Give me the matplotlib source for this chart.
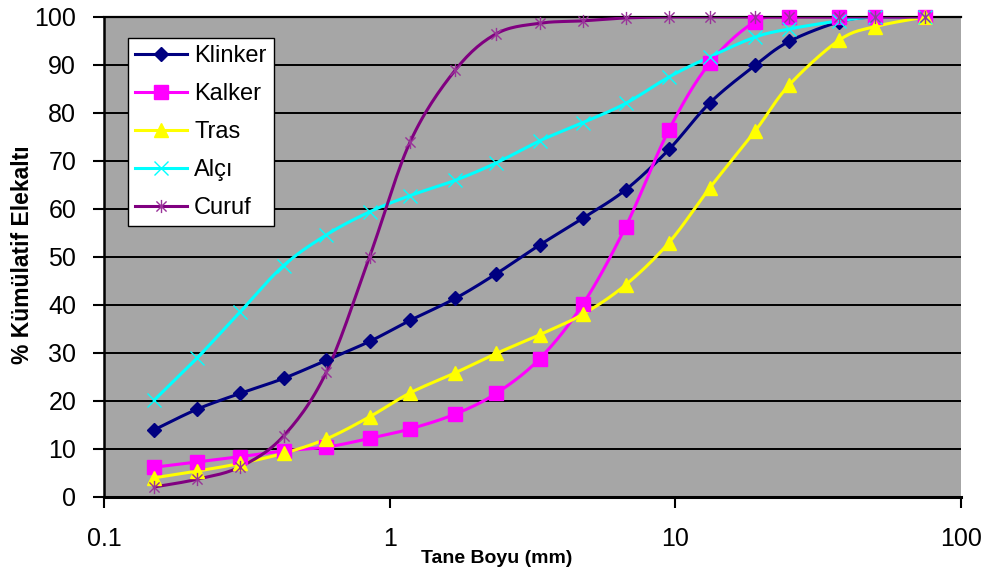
import numpy as np
import matplotlib
matplotlib.use("Agg")
import matplotlib.pyplot as plt
from matplotlib.path import Path

plt.rcParams["font.family"] = ["Liberation Sans", "DejaVu Sans"]

# sieve sizes (mm) and cumulative passing (%)
sizes = [0.15, 0.212, 0.3, 0.425, 0.6, 0.85, 1.18, 1.7, 2.36, 3.35,
         4.75, 6.7, 9.5, 13.2, 19, 25, 37.5, 50, 75]
klinker = [14, 18.3, 21.6, 24.7, 28.5, 32.4, 36.8, 41.4, 46.5, 52.5,
           58.1, 64, 72.4, 82.1, 89.9, 94.9, 99, 100, 100]
kalker = [6.2, 7.3, 8.4, 9.6, 10.4, 12.2, 14.2, 17.3, 21.6, 28.8,
          40.2, 56.3, 76.5, 90.4, 99, 100, 100, 100, 100]
tras = [4, 5.4, 7, 9.1, 12.1, 16.7, 21.7, 25.9, 29.9, 33.8,
        38.1, 44.2, 53, 64.4, 76.2, 85.8, 95.2, 98, 100]
alci = [20.2, 29, 38.6, 48.2, 54.6, 59.4, 62.8, 66, 69.6, 74.2,
        78, 82, 87.5, 91.7, 95.8, 97.5, 99.2, 100, 100]
curuf = [2.1, 3.7, 6.3, 12.7, 26, 50, 74, 89, 96.5, 98.7,
         99.2, 99.8, 100, 100, 100, 100, 100, 100, 100]

names = ["Klinker", "Kalker", "Tras", "Alçı", "Curuf"]
colors = ["#000080", "#FF00FF", "#FFFF00", "#00FFFF", "#800080"]

# excel-like asterisk marker (x + vertical bar)
star = Path([(-1, -1), (1, 1), (-1, 1), (1, -1), (0, -1.3), (0, 1.3)],
            [Path.MOVETO, Path.LINETO, Path.MOVETO, Path.LINETO, Path.MOVETO, Path.LINETO])


def smooth(xs, ys, n=16):
    # excel-style smoothed line (bezier through the points, log-x space)
    p = np.column_stack([np.log10(xs), ys])
    P = np.vstack([p[0], p, p[-1]])
    t = np.linspace(0, 1, n)[:, None]
    segs = []
    for i in range(1, len(P) - 2):
        p0, p1, p2, p3 = P[i - 1], P[i], P[i + 1], P[i + 2]
        c1 = p1 + (p2 - p0) / 6
        c2 = p2 - (p3 - p1) / 6
        s = (1 - t) ** 3 * p1 + 3 * (1 - t) ** 2 * t * c1 + 3 * (1 - t) * t ** 2 * c2 + t ** 3 * p2
        segs.append(s if i == 1 else s[1:])
    s = np.vstack(segs)
    return 10 ** s[:, 0], s[:, 1]


fig = plt.figure(figsize=(9.89, 5.76), dpi=100)
ax = fig.add_axes([104 / 989, 1 - 497 / 576, 857 / 989, 480 / 576])
ax.set_facecolor("#A6A6A6")

styles = [
    dict(marker="D", ms=7.5, mec="#000080", mfc="#000080"),
    dict(marker="s", ms=9.5, mec="#FF00FF", mfc="#FF00FF"),
    dict(marker="^", ms=9.5, mec="#FFFF00", mfc="#FFFF00"),
    dict(marker="x", ms=10.5, mew=1.0, mec="#00FFFF"),
    dict(marker=star, ms=9.5, mew=1.0, mec="#993399"),
]
series = [klinker, kalker, tras, alci, curuf]
for name, col, ys, st in zip(names, colors, series, styles):
    sx, sy = smooth(sizes, ys)
    ax.plot(sx, sy, color=col, lw=2.2, zorder=3)
    ax.plot(sizes, ys, ls="none", zorder=4, clip_on=False, **st)
    # legend proxy
    ax.plot([], [], color=col, lw=2.2, label=name, **st)

ax.set_xscale("log")
ax.set_xlim(0.1, 100)
ax.set_ylim(0, 100)
ax.set_yticks(np.arange(0, 101, 10))
ax.set_xticks([0.1, 1, 10, 100])
ax.set_xticklabels(["0.1", "1", "10", "100"])
ax.xaxis.set_minor_locator(matplotlib.ticker.NullLocator())
ax.yaxis.grid(True, color="black", lw=1.4)
ax.set_axisbelow(True)

ax.spines["right"].set_visible(False)
ax.spines["top"].set_linewidth(1.6)
ax.spines["left"].set_linewidth(1.8)
ax.spines["bottom"].set_linewidth(2.2)

ax.tick_params(axis="y", length=8, width=1.5, pad=12, labelsize=18)
ax.tick_params(axis="x", length=8, width=1.5, pad=13.5, labelsize=18)

ax.set_xlabel("Tane Boyu (mm)", fontsize=14, fontweight="bold")
ax.xaxis.set_label_coords((497 - 104) / 857, -(550 - 497) / 480)
ax.set_ylabel("% Kümülatif Elekaltı", fontsize=16.5, fontweight="bold")
ax.yaxis.set_label_coords((34 - 104) / 857, (497 - 255) / 480)

leg = ax.legend(loc="upper left", bbox_to_anchor=(128 / 989, 1 - 38 / 576),
                bbox_transform=fig.transFigure, fontsize=17, frameon=True,
                fancybox=False, borderpad=0.3, labelspacing=0.68,
                handlelength=2.2, handletextpad=0.3, borderaxespad=0)
leg.get_frame().set_edgecolor("black")
leg.get_frame().set_linewidth(1.0)
leg.get_frame().set_alpha(1)

fig.savefig("out.png", dpi=100)
